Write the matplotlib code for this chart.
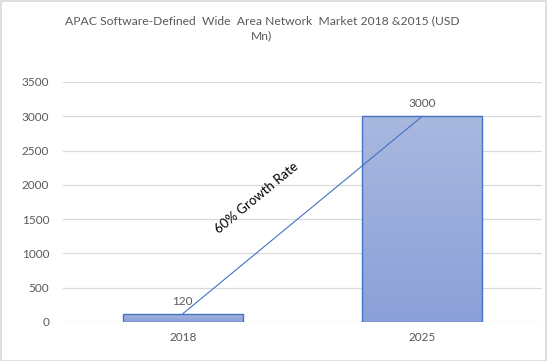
import numpy as np
import matplotlib
matplotlib.use("Agg")
import matplotlib.pyplot as plt
from matplotlib.colors import LinearSegmentedColormap

years = ["2018", "2025"]
values = [120, 3000]
yticks = [0, 500, 1000, 1500, 2000, 2500, 3000, 3500]
title = "APAC Software-Defined  Wide  Area Network  Market 2018 &2015 (USD\nMn)"
note = "60% Growth Rate"

plt.rcParams['font.family'] = ['Lato', 'DejaVu Sans']
txt = '#595959'

fig = plt.figure(figsize=(5.47, 3.61), dpi=100)
ax = fig.add_axes([63/547, 39/361, 479/547, 240/361])

x = np.arange(len(years))
bars = ax.bar(x, values, width=0.5, color='none', edgecolor='#4472c4', linewidth=1.0, zorder=3)

# gradient fill, light at the top and darker toward the bottom
grad = LinearSegmentedColormap.from_list('g', ['#8ba0d8', '#a9b8df'])
for b in bars:
    x0, y0 = b.get_x(), b.get_y()
    w, h = b.get_width(), b.get_height()
    im = ax.imshow(np.linspace(0, 1, 100).reshape(-1, 1), cmap=grad, origin='lower',
                   extent=[x0, x0 + w, y0, y0 + h], aspect='auto', zorder=2)
    im.set_clip_path(b)

for xi, v in zip(x, values):
    ax.annotate(str(v), (xi, v), xytext=(0, 5), textcoords='offset points',
                ha='center', va='bottom', fontsize=8.5, color=txt)

# growth line between bar tops
ax.plot(x, values, color='#4472c4', linewidth=0.8, zorder=4)
ax.text(0.31, 1808, note, rotation=39.5, rotation_mode='anchor', ha='center', va='center',
        fontsize=9.5, color='black', zorder=5)

ax.set_xlim(-0.5, 1.5)
ax.set_ylim(0, 3500)
ax.set_yticks(yticks)
ax.set_xticks(x)
ax.set_xticklabels(years)
ax.grid(axis='y', color='#d9d9d9', linewidth=0.9, zorder=0)
for s in ax.spines.values():
    s.set_visible(False)
ax.tick_params(length=0, colors=txt, labelsize=8.5)
ax.tick_params(axis='y', pad=10)
ax.tick_params(axis='x', pad=7)

fig.text(262/547, 1 - 28/361, title, ha='center', va='center', fontsize=8.7,
         color=txt, linespacing=1.45)

# light border round the figure
fig.patches.append(plt.Rectangle((0.001, 0.001), 0.997, 0.996, transform=fig.transFigure,
                                 fill=False, edgecolor='#d9d9d9', linewidth=1.2))

fig.savefig('out.png', dpi=100)
